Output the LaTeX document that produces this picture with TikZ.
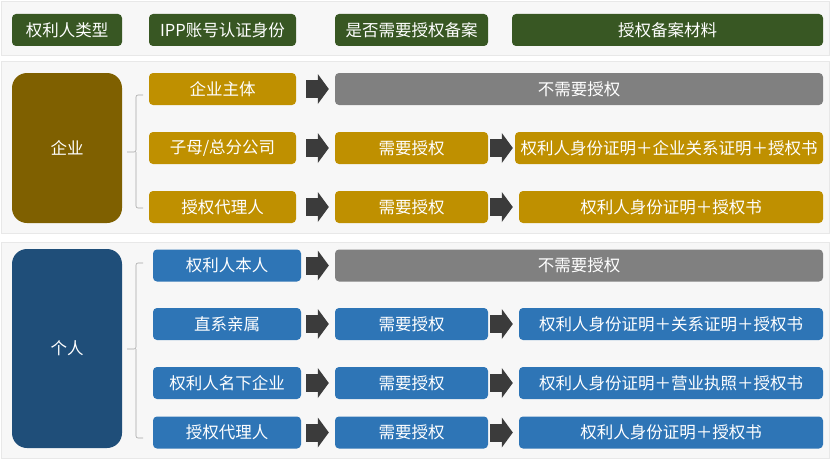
\documentclass[tikz,border=0pt]{standalone}
\usepackage{fontspec}
\newfontfamily\cjk{Noto Sans CJK SC}
\usetikzlibrary{arrows.meta}
\definecolor{hdgreen}{HTML}{385723}
\definecolor{entgold}{HTML}{BF9000}
\definecolor{entolive}{HTML}{7F6000}
\definecolor{perblue}{HTML}{2E75B6}
\definecolor{perdark}{HTML}{1F4E79}
\definecolor{nogray}{HTML}{808080}
\definecolor{blkgray}{HTML}{3B3B3B}

\begin{document}
\begin{tikzpicture}[
  x=1pt, y=-1pt,
  font=\cjk\fontsize{16.5}{19}\selectfont,
  panel/.style={draw=black!9, fill=black!3, line width=0.8pt},
  box/.style={rectangle, rounded corners=4pt, text=white, inner sep=0pt, minimum height=32pt, align=center},
  hdbox/.style={box, fill=hdgreen},
  entbox/.style={box, fill=entgold},
  perbox/.style={box, fill=perblue},
  nobox/.style={box, fill=nogray, minimum width=488pt},
  catbox/.style={box, rounded corners=15pt, minimum width=110pt},
  blk/.style 2 args={draw=blkgray, line width=18pt, -{Triangle[length=11pt, width=30pt, line width=0pt]}, shorten <=#1, shorten >=#2},
  brk/.style={draw=black!35, line width=0.6pt, rounded corners=2pt}
]

\useasboundingbox (0,0) rectangle (832,460);
\fill[white] (0,0) rectangle (832,460);
\draw[panel] (1,1) rectangle (829,55);
\draw[panel] (1,61) rectangle (829,233);
\draw[panel] (1,242) rectangle (829,458);

% header
\node[hdbox, minimum width=110pt] (h1) at (67,30) {权利人类型};
\node[hdbox, minimum width=147pt] (h2) at (222.5,30) {IPP账号认证身份};
\node[hdbox, minimum width=153pt] (h3) at (411.5,30) {是否需要授权备案};
\node[hdbox, minimum width=311pt] (h4) at (667.5,30) {授权备案材料};

% enterprise
\node[catbox, fill=entolive, minimum height=150pt] (ent) at (67,148) {企业};
\node[entbox, minimum width=147pt] (e1) at (222.5,89) {企业主体};
\node[entbox, minimum width=147pt] (e2) at (222.5,148) {子母/总分公司};
\node[entbox, minimum width=147pt] (e3) at (222.5,207) {授权代理人};
\node[nobox] (e1r) at (579,89) {不需要授权};
\node[entbox, minimum width=153pt] (e2r) at (411.5,148) {需要授权};
\node[entbox, minimum width=153pt] (e3r) at (411.5,207) {需要授权};
\node[entbox, minimum width=308pt] (e2m) at (669,148) {权利人身份证明＋企业关系证明＋授权书};
\node[entbox, minimum width=304pt] (e3m) at (671,207) {权利人身份证明＋授权书};

\draw[brk] (143,95) -- (136,95) -- (136,152) -- (127,152);
\draw[brk] (136,152) -- (136,208) -- (143,208);

\draw[blk={10pt}{6pt}] (e1) -- (e1r);
\draw[blk={10pt}{6pt}] (e2) -- (e2r);
\draw[blk={10pt}{6pt}] (e3) -- (e3r);
\draw[blk={2pt}{2pt}] (e2r) -- (e2m);
\draw[blk={2pt}{6pt}] (e3r) -- (e3m);

% person
\node[catbox, fill=perdark, minimum height=199pt] (per) at (67,348.5) {个人};
\node[perbox, minimum width=148pt] (p1) at (227,265.5) {权利人本人};
\node[perbox, minimum width=148pt] (p2) at (227,324) {直系亲属};
\node[perbox, minimum width=148pt] (p3) at (227,383) {权利人名下企业};
\node[perbox, minimum width=148pt] (p4) at (227,432.5) {授权代理人};
\node[nobox] (p1r) at (579,265.5) {不需要授权};
\node[perbox, minimum width=153pt] (p2r) at (411.5,324) {需要授权};
\node[perbox, minimum width=153pt] (p3r) at (411.5,383) {需要授权};
\node[perbox, minimum width=153pt] (p4r) at (411.5,432.5) {需要授权};
\node[perbox, minimum width=304pt] (p2m) at (671,324) {权利人身份证明＋关系证明＋授权书};
\node[perbox, minimum width=304pt] (p3m) at (671,383) {权利人身份证明＋营业执照＋授权书};
\node[perbox, minimum width=304pt] (p4m) at (671,432.5) {权利人身份证明＋授权书};

\draw[brk] (143,263) -- (136,263) -- (136,349) -- (127,349);
\draw[brk] (136,349) -- (136,438) -- (143,438);

\draw[blk={5pt}{6pt}] (p1) -- (p1r);
\foreach \i in {2,3,4} {
  \draw[blk={5pt}{6pt}] (p\i) -- (p\i r);
  \draw[blk={2pt}{6pt}] (p\i r) -- (p\i m);
}

\end{tikzpicture}
\end{document}
